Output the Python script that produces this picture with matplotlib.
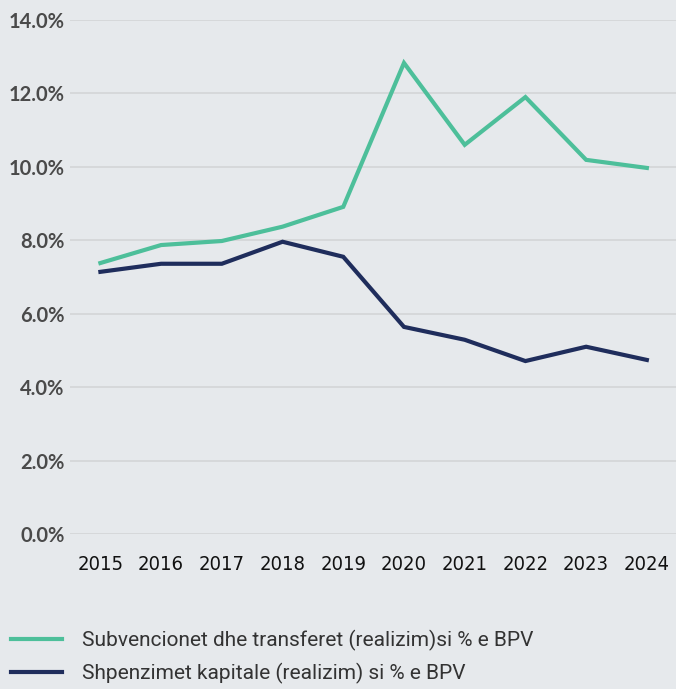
import numpy as np
import matplotlib.pyplot as plt
from matplotlib import font_manager

years = ['2015', '2016', '2017', '2018', '2019', '2020', '2021', '2022', '2023', '2024']
subvencionet = [7.38, 7.87, 7.98, 8.37, 8.91, 12.83, 10.60, 11.90, 10.19, 9.97]
kapitale = [7.14, 7.36, 7.36, 7.96, 7.55, 5.64, 5.29, 4.71, 5.10, 4.74]
labels = ['Subvencionet dhe transferet (realizim)si % e BPV',
          'Shpenzimet kapitale (realizim) si % e BPV']

bg = '#e6e9ec'
green = '#4dbf9a'
navy = '#1f2d5c'

plt.rcParams['font.family'] = ['Lato', 'DejaVu Sans']

# narrow font for the year labels, if there is one
names = set(f.name for f in font_manager.fontManager.ttflist)
if 'Liberation Sans Narrow' in names:
    year_font = dict(family=['Liberation Sans Narrow', 'DejaVu Sans'], fontsize=16)
else:
    year_font = dict(family=['DejaVu Sans'], stretch='condensed', fontsize=14.5)

fig = plt.figure(figsize=(6.76, 6.89), dpi=100, facecolor=bg)
ax = fig.add_axes([0.1036, 0.225, 0.8964, 0.746], facecolor=bg)

x = np.arange(len(years))
l1, = ax.plot(x, subvencionet, color=green, lw=3, solid_joinstyle='miter', clip_on=False)
l2, = ax.plot(x, kapitale, color=navy, lw=3, solid_joinstyle='miter', clip_on=False)

ax.set_ylim(0, 14)
ax.set_xlim(-0.5, 9.48)
ax.set_yticks(np.arange(0, 15, 2))
ax.set_yticklabels(['%.1f%%' % v for v in np.arange(0, 15, 2)],
                   fontsize=14.5, fontweight='bold', color='#4a4a4a')
ax.set_xticks(x)
ax.set_xticklabels(years, color='#111111', **year_font)
ax.tick_params(axis='both', length=0)
ax.tick_params(axis='x', pad=15)
ax.tick_params(axis='y', pad=4)
ax.grid(axis='y', color='#d5d7d9', lw=1.3)
ax.set_axisbelow(True)
for s in ax.spines.values():
    s.set_visible(False)

fig.legend([l1, l2], labels, loc='upper left', bbox_to_anchor=(0.0163, 0.086),
           frameon=False, borderpad=0, borderaxespad=0,
           prop=dict(family=['Roboto', 'DejaVu Sans'], size=15),
           handlelength=2.45, handletextpad=0.95,
           labelspacing=0.6, labelcolor='#333333')

fig.savefig('out.png', facecolor=bg)
